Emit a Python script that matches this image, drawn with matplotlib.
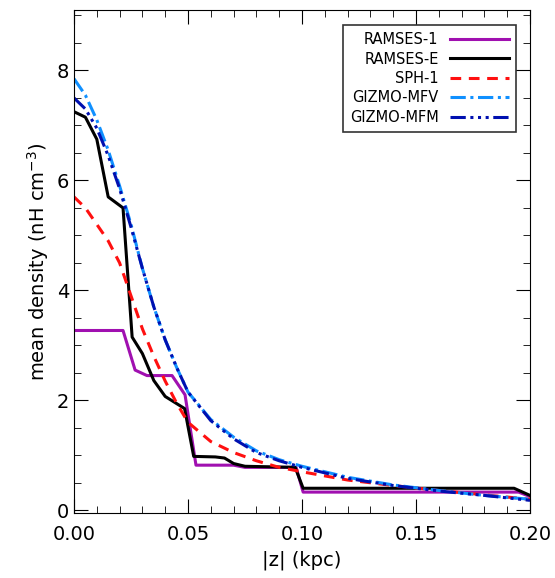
import matplotlib
matplotlib.use("Agg")
import matplotlib.pyplot as plt
from matplotlib.ticker import MultipleLocator

r1_x = [0, 0.0215, 0.0268, 0.032, 0.043, 0.0487, 0.0535, 0.07, 0.075, 0.0974, 0.1005, 0.195, 0.2]
r1_y = [3.27, 3.27, 2.55, 2.45, 2.45, 2.1, 0.82, 0.82, 0.78, 0.78, 0.33, 0.33, 0.25]
re_x = [0, 0.005, 0.01, 0.015, 0.0215, 0.0255, 0.03, 0.035, 0.04, 0.0485, 0.0525, 0.062, 0.066, 0.07, 0.075, 0.097, 0.1005, 0.193, 0.2]
re_y = [7.25, 7.15, 6.75, 5.7, 5.5, 3.15, 2.85, 2.36, 2.07, 1.85, 0.98, 0.97, 0.95, 0.85, 0.8, 0.78, 0.4, 0.4, 0.27]
sph_x = [0, 0.005, 0.01, 0.015, 0.02, 0.025, 0.03, 0.035, 0.04, 0.045, 0.05, 0.06, 0.07, 0.08, 0.09, 0.1, 0.12, 0.14, 0.16, 0.18, 0.2]
sph_y = [5.7, 5.5, 5.2, 4.9, 4.5, 3.9, 3.3, 2.8, 2.35, 1.95, 1.6, 1.25, 1.05, 0.9, 0.78, 0.7, 0.55, 0.45, 0.36, 0.28, 0.2]
g_x = [0, 0.005, 0.01, 0.015, 0.02, 0.025, 0.03, 0.035, 0.04, 0.045, 0.05, 0.06, 0.07, 0.08, 0.09, 0.1, 0.12, 0.14, 0.16, 0.18, 0.2]
mfv_y = [7.85, 7.55, 7.1, 6.55, 5.9, 5.2, 4.4, 3.7, 3.1, 2.6, 2.15, 1.65, 1.33, 1.08, 0.92, 0.8, 0.6, 0.46, 0.36, 0.27, 0.2]
mfm_y = [7.5, 7.3, 6.95, 6.45, 5.85, 5.15, 4.4, 3.7, 3.1, 2.6, 2.15, 1.63, 1.3, 1.05, 0.9, 0.78, 0.58, 0.45, 0.35, 0.27, 0.18]

plt.rcParams['font.family'] = ['DejaVu Sans']
fig = plt.figure(figsize=(5.55, 5.78), dpi=100)
ax = fig.add_axes([74/555, 1-513/578, 456/555, 503/578])
ax.plot(r1_x, r1_y, color='#a010b0', lw=2.2, label='RAMSES-1')
ax.plot(re_x, re_y, color='black', lw=2.2, label='RAMSES-E')
ax.plot(sph_x, sph_y, color='#ff1010', lw=2.2, ls=(0, (3.5, 2.5)), label='SPH-1')
ax.plot(g_x, mfv_y, color='#1090ff', lw=2.2, ls=(0, (5, 1.5, 1, 1.5)), label='GIZMO-MFV')
ax.plot(g_x, mfm_y, color='#0010b0', lw=2.2, ls=(0, (5, 1.5, 1, 1.5, 1, 1.5, 1, 1.5)), label='GIZMO-MFM')
ax.set_xlim(0, 0.2)
ax.set_ylim(-0.05, 9.1)
ax.xaxis.set_major_locator(MultipleLocator(0.05))
ax.xaxis.set_minor_locator(MultipleLocator(0.01))
ax.yaxis.set_major_locator(MultipleLocator(2))
ax.yaxis.set_minor_locator(MultipleLocator(0.5))
ax.tick_params(which='both', direction='in', top=True, right=True, labelsize=14)
ax.tick_params(which='major', length=10)
ax.tick_params(which='minor', length=5)
ax.tick_params(axis='x', pad=9)
ax.set_xlabel('|z| (kpc)', fontsize=14)
ax.set_ylabel('mean density (nH cm$^{-3}$)', fontsize=14)
ax.xaxis.set_major_formatter(matplotlib.ticker.FormatStrFormatter('%.2f'))
leg = ax.legend(loc='upper right', bbox_to_anchor=(0.985, 0.985), markerfirst=False, fancybox=False,
                edgecolor='black', fontsize=10.5, handlelength=4, labelspacing=0.3, borderpad=0.5)
leg.get_frame().set_linewidth(1.2)
for t in leg.get_texts():
    t.set_ha('right')
fig.savefig('out.png', dpi=100)
